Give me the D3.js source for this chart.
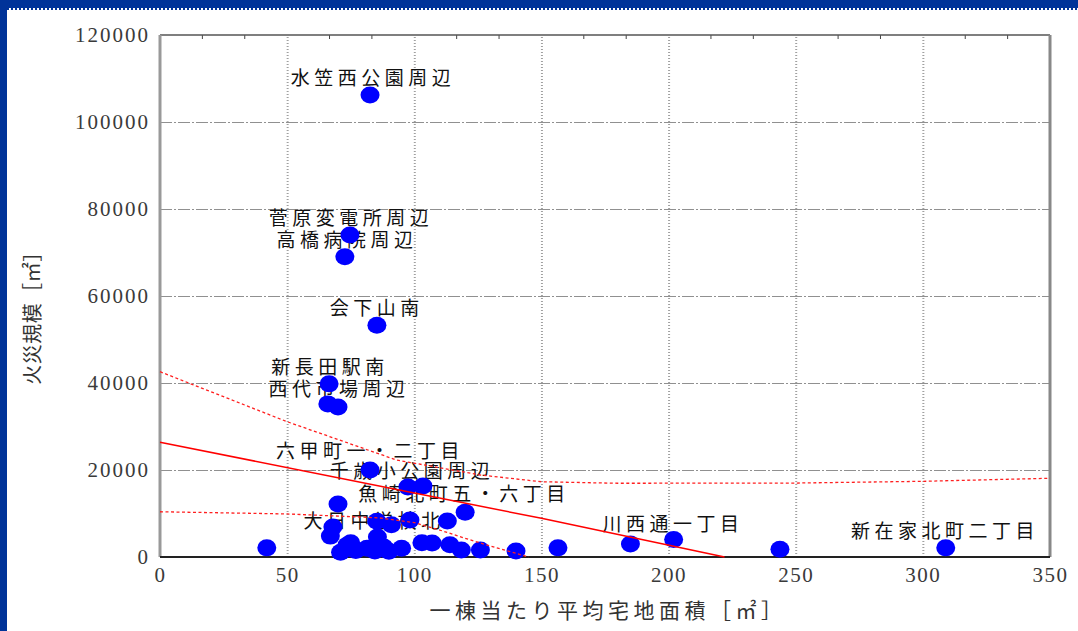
<!DOCTYPE html>
<html><head><meta charset="utf-8">
<script src="https://cdn.jsdelivr.net/npm/d3@7/dist/d3.min.js"></script>
<style>
html,body{margin:0;padding:0;background:#fff;}
svg{display:block;}
</style></head>
<body>
<svg id="chart" width="1078" height="631"></svg>
<script>
// ---- data ----
const xTicks = [0, 50, 100, 150, 200, 250, 300, 350];
const yTicks = [0, 20000, 40000, 60000, 80000, 100000, 120000];

const pointX = [82.6, 74.7, 72.7, 85.3, 66.5, 66, 70, 82.6, 97.5, 103.4, 120, 70,
  68, 67, 73.5, 71, 77, 81.4, 84.5, 85.3, 85.5, 88, 91, 95, 98.3, 103, 107, 113, 114,
  118.5, 126, 140, 156.5, 185, 202, 243.8, 309, 42, 75, 90];
const pointY = [106200, 74000, 69000, 53300, 39800, 35200, 34500, 20000, 16100, 16300, 10300, 12200,
  6900, 4800, 2700, 1100, 1500, 2000, 1400, 8200, 4600, 2300, 7400, 2000, 8500, 3300, 3200, 8300, 2800,
  1600, 1600, 1400, 2100, 3000, 4000, 1800, 2100, 2100, 3300, 1300];

const labelText = ["水笠西公園周辺", "菅原変電所周辺", "高橋病院周辺", "会下山南", "新長田駅南",
  "西代市場周辺", "六甲町一・二丁目", "千歳小公園周辺", "魚崎北町五・六丁目", "大日中学校北",
  "川西通一丁目", "新在家北町二丁目"];
const labelX = [83.0, 74.3, 72.8, 84.5, 66.1, 69.6, 81.8, 98.3, 118.8, 83.4, 201, 307.9];
const labelY = [108500, 76330, 71270, 55640, 42070, 37010, 22760, 18160, 12870, 6670, 5980, 4370];

const fitX = [0, 100, 150, 222];
const fitY = [26400, 14700, 8900, 0];
const upperX = [0, 50, 93, 126, 150, 180, 250, 300, 350];
const upperY = [42600, 31100, 22300, 18850, 17300, 16950, 17000, 17400, 18100];
const lowerX = [0, 50, 86, 100, 110, 120, 130, 145];
const lowerY = [10400, 9900, 9000, 7900, 6200, 4300, 2500, 0];

const xTitle = "一棟当たり平均宅地面積［㎡］";
const yTitle = "火災規模［㎡］";

// ---- layout ----
const W = 1078, H = 631;
const L = 160, R = 1050, T = 35, B = 557;
const svg = d3.select("#chart");

const x = d3.scaleLinear().domain([0, 350]).range([L, R]);
const y = d3.scaleLinear().domain([0, 120000]).range([B, T]);

// frame border (blue)
svg.append("rect").attr("x", 0).attr("y", 0).attr("width", W).attr("height", 8).attr("fill", "#003399");
svg.append("rect").attr("x", 0).attr("y", 0).attr("width", 7).attr("height", H).attr("fill", "#003399");
svg.append("line").attr("x1", 7).attr("x2", W).attr("y1", 9).attr("y2", 9)
  .attr("stroke", "#003399").attr("stroke-width", 2).attr("stroke-dasharray", "2,2");

// grid
svg.append("g").attr("transform", `translate(0,${B})`)
  .call(d3.axisBottom(x).tickValues(xTicks.slice(1, -1)).tickSize(-(B - T)).tickFormat(""))
  .call(g => g.select(".domain").remove())
  .call(g => g.selectAll("line").attr("stroke", "#a0a0a0").attr("stroke-width", 2).attr("stroke-dasharray", "1,2"));
svg.append("g").attr("transform", `translate(${L},0)`)
  .call(d3.axisLeft(y).tickValues(yTicks.slice(1, -1)).tickSize(-(R - L)).tickFormat(""))
  .call(g => g.select(".domain").remove())
  .call(g => g.selectAll("line").attr("stroke", "#909090").attr("stroke-width", 1).attr("stroke-dasharray", "12,2,2,2"));

// minor ticks along the top edge
const minor = d3.range(0, 350.01, 50 / 3).filter(v => Math.abs(v / 50 - Math.round(v / 50)) > 0.01);
svg.append("g").selectAll("line").data(minor).join("line")
  .attr("x1", d => x(d)).attr("x2", d => x(d)).attr("y1", T).attr("y2", T + 4)
  .attr("stroke", "#444").attr("stroke-width", 1);

// axes tick labels
const numFont = "'Liberation Serif','Times New Roman',serif";
svg.append("g").attr("transform", `translate(${L},0)`)
  .call(d3.axisLeft(y).tickValues(yTicks).tickSize(0).tickPadding(10).tickFormat(d3.format("d")))
  .call(g => g.select(".domain").remove())
  .call(g => g.selectAll("text").attr("font-family", numFont).attr("font-size", 21)
    .attr("letter-spacing", "2px").attr("fill", "#3a3a3a"));
svg.append("g").attr("transform", `translate(0,${B})`)
  .call(d3.axisBottom(x).tickValues(xTicks).tickSize(0).tickPadding(10).tickFormat(d3.format("d")))
  .call(g => g.select(".domain").remove())
  .call(g => g.selectAll("text").attr("font-family", numFont).attr("font-size", 21)
    .attr("letter-spacing", "1.5px").attr("fill", "#3a3a3a"));

// plot frame
svg.append("line").attr("x1", L).attr("x2", R).attr("y1", T).attr("y2", T).attr("stroke", "#555").attr("stroke-width", 1.5);
svg.append("line").attr("x1", L).attr("x2", L).attr("y1", T).attr("y2", B).attr("stroke", "#999").attr("stroke-width", 3);
svg.append("line").attr("x1", R).attr("x2", R).attr("y1", T).attr("y2", B).attr("stroke", "#888").attr("stroke-width", 3);
svg.append("line").attr("x1", L).attr("x2", R).attr("y1", B).attr("y2", B).attr("stroke", "#222").attr("stroke-width", 2);

// labels
const cjk = "'Noto Sans CJK JP','Noto Sans',sans-serif";
svg.append("g").selectAll("text").data(labelText).join("text")
  .attr("x", (d, i) => x(labelX[i]) + 2)
  .attr("y", (d, i) => y(labelY[i]))
  .attr("text-anchor", "middle")
  .attr("font-family", cjk).attr("font-size", 19).attr("letter-spacing", "4.5px")
  .attr("fill", "#111")
  .text(d => d);

// points
svg.append("g").selectAll("ellipse").data(pointX).join("ellipse")
  .attr("cx", (d, i) => x(d)).attr("cy", (d, i) => y(pointY[i]))
  .attr("rx", 9.5).attr("ry", 8.5).attr("fill", "#0000ff");

// regression and bands
const line = d3.line().x(d => x(d[0])).y(d => y(d[1]));
const zip = (a, b) => a.map((v, i) => [v, b[i]]);
svg.append("path").attr("d", line(zip(fitX, fitY))).attr("fill", "none")
  .attr("stroke", "#ff0000").attr("stroke-width", 1.5);
svg.append("path").attr("d", line(zip(upperX, upperY))).attr("fill", "none")
  .attr("stroke", "#ff2020").attr("stroke-width", 1.3).attr("stroke-dasharray", "3,2.5");
svg.append("path").attr("d", line(zip(lowerX, lowerY))).attr("fill", "none")
  .attr("stroke", "#ff2020").attr("stroke-width", 1.3).attr("stroke-dasharray", "3,2.5");

// axis titles
svg.append("text").attr("x", (L + R) / 2 + 3).attr("y", 618).attr("text-anchor", "middle")
  .attr("font-family", cjk).attr("font-size", 21).attr("letter-spacing", "4.5px")
  .attr("fill", "#333").text(xTitle);
svg.append("text").attr("transform", "translate(40,313) rotate(-90)").attr("text-anchor", "middle")
  .attr("font-family", cjk).attr("font-size", 20).attr("letter-spacing", "0.5px")
  .attr("fill", "#333").text(yTitle);
</script>
</body></html>
